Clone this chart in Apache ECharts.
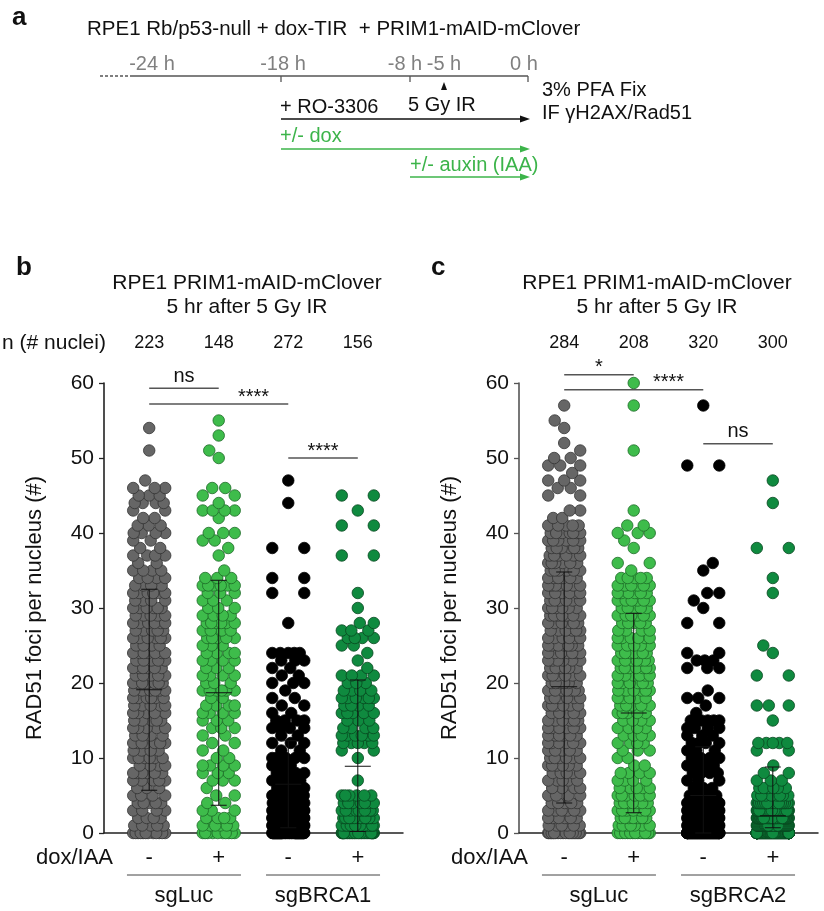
<!DOCTYPE html>
<html><head><meta charset="utf-8">
<script src="https://cdn.jsdelivr.net/npm/echarts@6/dist/echarts.min.js"></script>
<style>html,body{margin:0;padding:0;background:#fff}#c{width:824px;height:911px}</style>
</head><body><div id="c"></div>
<script>
// ================= DATA =================
const conditions = ['-', '+', '-', '+'];
const genesB = ['sgLuc', 'sgBRCA1'];
const genesC = ['sgLuc', 'sgBRCA2'];
const genePairs = [[0, 1], [2, 3]];
const nucleiB = [223, 148, 272, 156];
const nucleiC = [284, 208, 320, 300];

// number of nuclei per RAD51 foci count (array index = foci count)
const b_sgLuc_minus = [12,5,4,4,5,4,3,5,6,4, 6,4,7,4,5,5,5,5,6,6, 7,5,6,5,7,4,6,5,6,5, 6,4,6,4,4,4,2,4,2,2, 4,3,2,2,4,3,3,1,0,0, 0,1,0,0,1];
const b_sgLuc_plus = [10,6,4,3,2,2,1,3,3,4, 2,2,2,2,3,3,4,4,2,6, 3,4,3,4,4,3,5,4,6,4, 3,3,3,6,3,1,0,1,1,2, 3,0,1,4,1,2,2,0,0,0, 1,1,0,1,0,1];
const b_sgBRCA1_minus = [50,42,36,30,26,22,4,4,4,3, 5,2,3,2,4,4,2,2,2,1, 3,2,2,3,5,0,0,0,1,0, 0,0,2,0,2,0,0,0,2,0, 0,0,0,0,1,0,0,1];
const b_sgBRCA1_plus = [32,16,14,10,7,6,0,1,0,0, 1,2,5,6,4,3,5,4,6,4, 3,4,1,1,1,2,4,3,2,0, 1,0,1,0,0,0,0,2,0,0, 0,2,0,1,0,2];

const c_sgLuc_minus = [20,6,6,6,5,4,4,5,5,6, 6,5,6,6,6,6,5,6,6,7, 6,6,6,6,7,7,6,6,6,7, 6,6,6,7,6,6,6,6,6,6, 7,5,2,2,0,2,2,3,1,3, 2,1,1,0,1,1,0,1];
const c_sgLuc_plus = [15,7,7,7,7,7,5,4,4,2, 2,3,4,4,4,4,5,5,5,6, 6,6,7,7,7,5,6,4,5,6, 5,6,6,6,5,1,2,0,1,1, 3,2,0,1,0,0,0,0,0,0, 0,1,0,0,0,0,0,1,0,0, 1];
const c_sgBRCA2_minus = [70,60,50,40,34,4,3,3,4,4, 4,3,4,3,4,5,1,1,3,1, 0,0,3,3,2,0,0,0,2,0, 1,1,2,0,0,1,1,0,0,0, 0,0,0,0,0,0,0,0,0,2, 0,0,0,0,0,0,0,1];
const c_sgBRCA2_plus = [95,55,45,38,26,8,6,3,2,1, 0,2,5,0,0,1,0,3,0,0, 0,2,0,0,1,1,0,0,0,0, 0,0,1,0,1,0,0,0,2,0, 0,0,0,0,1,0,0,1];

// mean and SD limits
const meanB = [19.1, 18.7, 6.5, 8.9];
const sdLowB = [5.7, 3.7, 0.7, 0.2];
const sdHighB = [32.5, 33.7, 12.3, 20.4];
const meanC = [19.5, 16.0, 5.0, 2.3];
const sdLowC = [4.0, 2.7, 0.0, 0.7];
const sdHighC = [34.8, 29.3, 11.5, 8.8];

// significance brackets
const bracketFromB = [0, 0, 2];
const bracketToB = [1, 2, 3];
const bracketYB = [59.3, 57.2, 50.0];
const bracketTextB = ['ns', '****', '****'];
const bracketFromC = [0, 0, 2];
const bracketToC = [1, 2, 3];
const bracketYC = [61.1, 59.1, 51.9];
const bracketTextC = ['*', '****', 'ns'];

// timeline schematic (panel a)
const timeLabels = ['-24 h', '-18 h', '-8 h', '-5 h', '0 h'];

// ================= STYLE / LAYOUT =================
const FONT = '"Liberation Sans", Arial, Helvetica, sans-serif';
const colFill = ['#666666', '#3ebc4b', '#000000', '#0f8a3f'];
const colBorder = ['#333333', '#1d6b27', '#000000', '#07481f'];
const GRID_W = 299, GRID_H = 450, XMIN = -0.65, XMAX = 3.65;
const PX = GRID_W / (XMAX - XMIN);
const PY = GRID_H / 60;
const SPREAD = 16, CAP = 12;

// greedy beeswarm layout of one column (pixel offsets -> axis units)
function swarm(counts, col) {
  const rows = [];
  const pts = [];
  function score(x, v, cur) {
    let best = CAP * CAP;
    for (let dv = 1; dv <= 2; dv++) {
      const r = rows[v - dv];
      if (!r) continue;
      const dy = dv * PY;
      for (const px of r) { const d = (px - x) * (px - x) + dy * dy; if (d < best) best = d; }
    }
    for (const px of cur) { const d = (px - x) * (px - x); if (d < best) best = d; }
    return best;
  }
  counts.forEach((k, v) => {
    const cur = [];
    for (let j = 0; j < k; j++) {
      let bx = 0, bs = -1;
      const sign = (j + v) % 2 === 0 ? 1 : -1;
      if (k === 1) {
        for (let a = 0; a <= SPREAD; a += 0.5) {
          for (const sx of [sign * a, -sign * a]) { const s = score(sx, v, cur); if (s > bs + 1e-6) { bs = s; bx = sx; } }
        }
      } else {
        for (let a = SPREAD; a >= 0; a -= 0.5) {
          for (const sx of [sign * a, -sign * a]) { const s = score(sx, v, cur); if (s > bs + 1e-6) { bs = s; bx = sx; } }
        }
      }
      cur.push(bx);
    }
    rows[v] = cur;
    cur.forEach(x => pts.push([col + x / PX, v]));
  });
  return pts;
}

const chart = echarts.init(document.getElementById('c'), null, {renderer: 'canvas'});

function scatterSeries(counts, col, gi) {
  return {
    type: 'scatter', xAxisIndex: gi, yAxisIndex: gi, data: swarm(counts, col),
    symbol: 'circle', symbolSize: 11.5, silent: true, z: 2, large: false, progressive: 0,
    itemStyle: {color: colFill[col], borderColor: colBorder[col], borderWidth: 0.8, opacity: 1}
  };
}

function errorSeries(mean, lo, hi, gi) {
  return {
    type: 'custom', xAxisIndex: gi, yAxisIndex: gi, z: 5, silent: true,
    data: mean.map((m, i) => [i, m, lo[i], hi[i]]),
    renderItem(params, api) {
      const x = api.value(0);
      const pm = api.coord([x, api.value(1)]);
      const pl = api.coord([x, api.value(2)]);
      const ph = api.coord([x, api.value(3)]);
      const st = {stroke: '#111', lineWidth: 1};
      return {type: 'group', children: [
        {type: 'line', shape: {x1: pm[0], y1: pl[1], x2: pm[0], y2: ph[1]}, style: st},
        {type: 'line', shape: {x1: pm[0] - 8, y1: pl[1], x2: pm[0] + 8, y2: pl[1]}, style: st},
        {type: 'line', shape: {x1: pm[0] - 8, y1: ph[1], x2: pm[0] + 8, y2: ph[1]}, style: st},
        {type: 'line', shape: {x1: pm[0] - 13, y1: pm[1], x2: pm[0] + 13, y2: pm[1]}, style: st}
      ]};
    }
  };
}

function bracketSeries(from, to, ys, texts, gi) {
  return {
    type: 'custom', xAxisIndex: gi, yAxisIndex: gi, z: 6, silent: true, clip: false,
    data: from.map((f, i) => [f, to[i], ys[i]]),
    renderItem(params, api) {
      const a = api.coord([api.value(0), api.value(2)]);
      const b = api.coord([api.value(1), api.value(2)]);
      const t = texts[params.dataIndex];
      const span = api.value(1) - api.value(0);
      const frac = span > 1 ? 0.75 : 0.5;
      const isStar = t.indexOf('*') >= 0;
      return {type: 'group', children: [
        {type: 'line', shape: {x1: a[0], y1: a[1], x2: b[0], y2: b[1]}, style: {stroke: '#555', lineWidth: 1.3}},
        {type: 'text', x: a[0] + (b[0] - a[0]) * frac, y: a[1] - (isStar ? -3 : 2),
         style: {text: t, align: 'center', verticalAlign: 'bottom', font: '20px ' + FONT, fill: '#111'}}
      ]};
    }
  };
}

function columnLabelSeries(nuclei, gi) {
  return {
    type: 'custom', xAxisIndex: gi, yAxisIndex: gi, z: 6, silent: true, clip: false,
    data: conditions.map((c, i) => [i, 0]),
    renderItem(params, api) {
      const i = params.dataIndex;
      const p0 = api.coord([api.value(0), 0]);
      const pt = api.coord([api.value(0), 60]);
      return {type: 'group', children: [
        {type: 'text', x: p0[0], y: pt[1] - 40,
         style: {text: String(nuclei[i]), align: 'center', verticalAlign: 'middle', font: '18px ' + FONT, fill: '#111'}},
        {type: 'text', x: p0[0], y: p0[1] + 25,
         style: {text: conditions[i], align: 'center', verticalAlign: 'middle', font: '22px ' + FONT, fill: '#111'}}
      ]};
    }
  };
}

function geneSeries(genes, gi) {
  return {
    type: 'custom', xAxisIndex: gi, yAxisIndex: gi, z: 6, silent: true, clip: false,
    data: genePairs.map(p => [p[0], p[1]]),
    renderItem(params, api) {
      const a = api.coord([api.value(0), 0]);
      const b = api.coord([api.value(1), 0]);
      const cx = (a[0] + b[0]) / 2;
      return {type: 'group', children: [
        {type: 'line', shape: {x1: cx - 57, y1: a[1] + 42, x2: cx + 57, y2: a[1] + 42}, style: {stroke: '#444', lineWidth: 1}},
        {type: 'text', x: cx, y: a[1] + 63,
         style: {text: genes[params.dataIndex], align: 'center', verticalAlign: 'middle', font: '22px ' + FONT, fill: '#111'}}
      ]};
    }
  };
}

function xAx(gi) {
  return {gridIndex: gi, type: 'value', min: XMIN, max: XMAX,
    axisLine: {show: true, onZero: false, lineStyle: {color: '#222', width: 1.5}},
    axisTick: {show: false}, axisLabel: {show: false}, splitLine: {show: false}};
}
function yAx(gi, col) {
  return {gridIndex: gi, type: 'value', min: 0, max: 60, interval: 10,
    axisLine: {show: true, onZero: false, lineStyle: {color: col, width: 1.6}},
    axisTick: {show: true, length: 5, lineStyle: {color: col, width: 1.3}},
    axisLabel: {fontSize: 21, color: '#111', margin: 10, fontFamily: FONT},
    splitLine: {show: false},
    name: 'RAD51 foci per nucleus (#)', nameLocation: 'middle', nameGap: 58,
    nameTextStyle: {fontSize: 22, color: '#111', fontFamily: FONT}};
}

// ---- panel a schematic (graphic) ----
const tlY = 76;
const tlX = [152, 283, 405, 444, 524];
const green = '#3cb44a';
function txt(x, y, s, opts) {
  return Object.assign({type: 'text', x: x, y: y, silent: true,
    style: Object.assign({text: s, font: '21px ' + FONT, fill: '#111', align: 'left', verticalAlign: 'middle'}, opts || {})});
}
function ln(x1, y1, x2, y2, stroke, w, dash) {
  return {type: 'line', silent: true, shape: {x1, y1, x2, y2}, style: {stroke, lineWidth: w || 1.3, lineDash: dash || null}};
}
function arrowHead(x, y, color) {
  return {type: 'polygon', silent: true, shape: {points: [[x + 2, y], [x - 8, y - 3.5], [x - 8, y + 3.5]]}, style: {fill: color}};
}
const graphics = [
  txt(12, 18, 'a', {font: 'bold 26px ' + FONT}),
  txt(87, 29, 'RPE1 Rb/p53-null + dox-TIR  + PRIM1-mAID-mClover', {font: '20.5px ' + FONT}),
  ln(100, tlY, 133, tlY, '#555', 1.3, [3, 2]),
  ln(133, tlY, 528, tlY, '#555', 1.3),
  ln(281, tlY, 281, tlY + 6, '#555', 1.3),
  ln(410, tlY, 410, tlY + 6, '#555', 1.3),
  ln(528, tlY, 528, tlY + 6, '#555', 1.3),
  {type: 'polygon', silent: true, shape: {points: [[444, 82], [441, 90], [447, 90]]}, style: {fill: '#111'}},
  txt(280, 107, '+ RO-3306', {font: '20px ' + FONT}),
  txt(408, 105, '5 Gy IR', {font: '20px ' + FONT}),
  ln(281, 119, 526, 119, '#111', 1.3), arrowHead(528, 119, '#111'),
  txt(542, 90, '3% PFA Fix', {font: '20px ' + FONT}),
  txt(542, 113, 'IF γH2AX/Rad51', {font: '20px ' + FONT}),
  txt(280, 136, '+/- dox', {fill: green, font: '20px ' + FONT}),
  ln(281, 149, 526, 149, green, 1.3), arrowHead(528, 149, green),
  txt(410, 165, '+/- auxin (IAA)', {fill: green, font: '20px ' + FONT}),
  ln(410, 177, 526, 177, green, 1.3), arrowHead(528, 177, green),
  // panel b / c headers
  txt(16, 268, 'b', {font: 'bold 26px ' + FONT}),
  txt(247, 283, 'RPE1 PRIM1-mAID-mClover', {align: 'center'}),
  txt(247, 307, '5 hr after 5 Gy IR', {align: 'center'}),
  txt(2, 343, 'n (# nuclei)'),
  txt(113, 858, 'dox/IAA', {align: 'right', font: '22px ' + FONT}),
  txt(431, 268, 'c', {font: 'bold 26px ' + FONT}),
  txt(657, 283, 'RPE1 PRIM1-mAID-mClover', {align: 'center'}),
  txt(657, 307, '5 hr after 5 Gy IR', {align: 'center'}),
  txt(528, 858, 'dox/IAA', {align: 'right', font: '22px ' + FONT})
];
timeLabels.forEach((s, i) => graphics.push(txt(tlX[i], 64, s, {align: 'center', fill: '#808080', font: '20px ' + FONT})));

const option = {
  animation: false,
  backgroundColor: '#fff',
  textStyle: {fontFamily: FONT},
  grid: [
    {left: 104, top: 383, width: GRID_W, height: GRID_H},
    {left: 519, top: 383, width: GRID_W, height: GRID_H}
  ],
  xAxis: [xAx(0), xAx(1)],
  yAxis: [yAx(0, '#222'), yAx(1, '#555')],
  graphic: graphics,
  series: [
    scatterSeries(b_sgLuc_minus, 0, 0),
    scatterSeries(b_sgLuc_plus, 1, 0),
    scatterSeries(b_sgBRCA1_minus, 2, 0),
    scatterSeries(b_sgBRCA1_plus, 3, 0),
    scatterSeries(c_sgLuc_minus, 0, 1),
    scatterSeries(c_sgLuc_plus, 1, 1),
    scatterSeries(c_sgBRCA2_minus, 2, 1),
    scatterSeries(c_sgBRCA2_plus, 3, 1),
    errorSeries(meanB, sdLowB, sdHighB, 0),
    errorSeries(meanC, sdLowC, sdHighC, 1),
    bracketSeries(bracketFromB, bracketToB, bracketYB, bracketTextB, 0),
    bracketSeries(bracketFromC, bracketToC, bracketYC, bracketTextC, 1),
    columnLabelSeries(nucleiB, 0),
    columnLabelSeries(nucleiC, 1),
    geneSeries(genesB, 0),
    geneSeries(genesC, 1)
  ]
};
chart.setOption(option);
</script>
</body></html>
